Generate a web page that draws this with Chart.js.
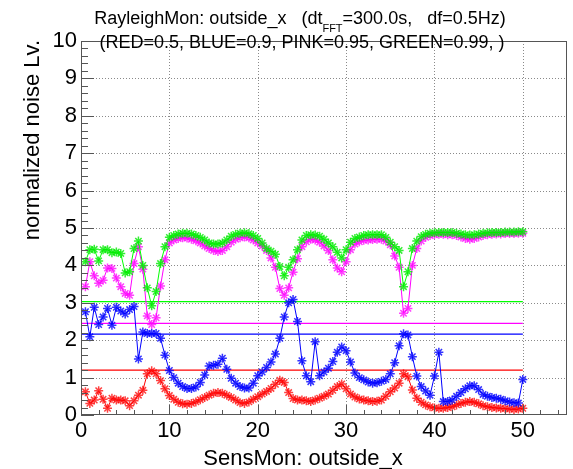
<!DOCTYPE html>
<html>
<head>
<meta charset="utf-8">
<script src="https://cdn.jsdelivr.net/npm/chart.js@4.4.1/dist/chart.umd.min.js"></script>
<style>
  html, body { margin: 0; padding: 0; background: #fff; }
  canvas { display: block; }
</style>
</head>
<body>
<canvas id="noise-chart" width="573" height="469"></canvas>
<script>
// Frequency bins (Hz) of the RayleighMon output
var freqs = [
    0.5, 1, 1.5, 2, 2.5, 3, 3.5, 4, 4.5, 5, 5.5, 6, 6.5, 7, 7.5, 8, 8.5, 9, 9.5, 10,
    10.5, 11, 11.5, 12, 12.5, 13, 13.5, 14, 14.5, 15, 15.5, 16, 16.5, 17, 17.5, 18, 18.5, 19, 19.5, 20,
    20.5, 21, 21.5, 22, 22.5, 23, 23.5, 24, 24.5, 25, 25.5, 26, 26.5, 27, 27.5, 28, 28.5, 29, 29.5, 30,
    30.5, 31, 31.5, 32, 32.5, 33, 33.5, 34, 34.5, 35, 35.5, 36, 36.5, 37, 37.5, 38, 38.5, 39, 39.5, 40,
    40.5, 41, 41.5, 42, 42.5, 43, 43.5, 44, 44.5, 45, 45.5, 46, 46.5, 47, 47.5, 48, 48.5, 49, 49.5, 50
];

// RED = 0.5 quantile
var redValues = [
    0.62, 0.31, 0.40, 0.65, 0.42, 0.18, 0.45, 0.40, 0.40, 0.38, 0.25, 0.38, 0.53, 0.66, 1.10, 1.18, 1.10, 0.92, 0.70, 0.52,
    0.42, 0.34, 0.30, 0.29, 0.31, 0.35, 0.41, 0.47, 0.53, 0.58, 0.60, 0.58, 0.53, 0.47, 0.40, 0.33, 0.31, 0.35, 0.42, 0.49,
    0.56, 0.63, 0.71, 0.82, 0.93, 0.87, 0.60, 0.44, 0.40, 0.40, 0.38, 0.36, 0.40, 0.45, 0.50, 0.56, 0.66, 0.76, 0.83, 0.70,
    0.56, 0.48, 0.43, 0.40, 0.38, 0.36, 0.37, 0.40, 0.50, 0.62, 0.72, 0.85, 1.10, 1.02, 0.67, 0.45, 0.34, 0.27, 0.22, 0.19,
    0.18, 0.18, 0.20, 0.22, 0.27, 0.31, 0.34, 0.36, 0.34, 0.30, 0.25, 0.22, 0.20, 0.19, 0.18, 0.17, 0.16, 0.15, 0.16, 0.18
];

// BLUE = 0.9 quantile
var blueValues = [
    2.76, 2.09, 2.88, 2.42, 2.62, 2.85, 2.40, 2.88, 2.78, 2.70, 2.82, 2.90, 1.50, 2.22, 2.18, 2.18, 2.18, 2.05, 1.60, 1.19,
    1.00, 0.85, 0.76, 0.71, 0.71, 0.75, 0.87, 1.07, 1.31, 1.33, 1.36, 1.52, 1.22, 0.98, 0.85, 0.76, 0.72, 0.72, 0.85, 1.05,
    1.15, 1.27, 1.42, 1.63, 2.05, 2.62, 3.00, 3.09, 2.50, 1.45, 1.05, 0.89, 1.96, 1.05, 1.15, 1.25, 1.43, 1.68, 1.82, 1.72,
    1.42, 1.12, 1.00, 0.94, 0.88, 0.85, 0.86, 0.90, 0.95, 1.10, 1.40, 1.85, 2.17, 2.14, 1.56, 1.04, 0.76, 0.64, 0.53, 1.04,
    1.68, 0.36, 0.36, 0.40, 0.50, 0.60, 0.70, 0.78, 0.78, 0.68, 0.55, 0.50, 0.47, 0.45, 0.42, 0.38, 0.35, 0.33, 0.32, 0.95
];

// PINK = 0.95 quantile
var pinkValues = [
    3.43, 4.10, 3.72, 3.52, 3.60, 3.93, 3.92, 3.66, 3.43, 3.25, 3.20, 4.05, 4.50, 3.90, 2.65, 2.42, 2.60, 3.45, 4.15, 4.60,
    4.68, 4.72, 4.74, 4.73, 4.70, 4.66, 4.60, 4.52, 4.45, 4.40, 4.37, 4.40, 4.50, 4.62, 4.70, 4.74, 4.76, 4.74, 4.68, 4.60,
    4.52, 4.40, 4.20, 3.95, 3.38, 3.20, 3.40, 3.82, 4.18, 4.50, 4.63, 4.70, 4.68, 4.62, 4.52, 4.40, 4.15, 3.93, 3.83, 4.10,
    4.42, 4.57, 4.63, 4.67, 4.68, 4.69, 4.70, 4.70, 4.65, 4.55, 4.25, 3.95, 2.72, 2.85, 4.00, 4.45, 4.65, 4.75, 4.80, 4.82,
    4.83, 4.83, 4.82, 4.82, 4.80, 4.76, 4.72, 4.70, 4.72, 4.76, 4.80, 4.82, 4.83, 4.84, 4.84, 4.85, 4.85, 4.85, 4.86, 4.86
];

// GREEN = 0.99 quantile
var greenValues = [
    4.10, 4.42, 4.43, 4.12, 4.42, 4.42, 4.34, 4.36, 4.32, 3.80, 3.83, 4.45, 4.65, 4.00, 3.40, 2.92, 3.30, 4.05, 4.50, 4.75,
    4.80, 4.84, 4.86, 4.86, 4.84, 4.80, 4.75, 4.68, 4.60, 4.57, 4.57, 4.60, 4.68, 4.78, 4.83, 4.86, 4.87, 4.85, 4.80, 4.72,
    4.60, 4.45, 4.38, 4.30, 3.97, 3.72, 3.95, 4.15, 4.42, 4.68, 4.80, 4.82, 4.81, 4.78, 4.70, 4.60, 4.50, 4.35, 4.20, 4.42,
    4.62, 4.72, 4.76, 4.80, 4.82, 4.82, 4.82, 4.82, 4.75, 4.62, 4.50, 4.40, 3.43, 3.83, 4.45, 4.65, 4.77, 4.83, 4.86, 4.87,
    4.88, 4.88, 4.88, 4.88, 4.86, 4.84, 4.82, 4.81, 4.82, 4.84, 4.86, 4.87, 4.88, 4.88, 4.88, 4.89, 4.89, 4.89, 4.90, 4.90
];

// Threshold levels drawn as flat lines
var redLevel = 1.2;
var blueLevel = 2.16;
var pinkLevel = 2.45;
var greenLevel = 3.03;

var xTicks = [0, 10, 20, 30, 40, 50];
var yTicks = [0, 1, 2, 3, 4, 5, 6, 7, 8, 9, 10];

var FONT = "'Liberation Sans', Arial, Helvetica, sans-serif";

function toPoints(values) {
    return freqs.map(function(f, i) {
        return { x: f, y: values[i] };
    });
}

function levelLine(level) {
    return [{ x: 0, y: level }, { x: freqs[freqs.length - 1], y: level }];
}

function seriesDataset(label, values, color, markerColor) {
    return {
        label: label,
        data: toPoints(values),
        borderColor: color,
        backgroundColor: color,
        borderWidth: 1,
        pointStyle: 'star',
        pointRadius: 4.5,
        pointBorderWidth: 1.5,
        pointBorderColor: markerColor,
        tension: 0
    };
}

function levelDataset(label, level, color) {
    return {
        label: label,
        data: levelLine(level),
        borderColor: color,
        borderWidth: 1.2,
        pointRadius: 0,
        tension: 0
    };
}

// ROOT style frame: dotted grid, inward ticks, titles
var rootFrame = {
    id: 'rootFrame',
    beforeDatasetsDraw: function(chart) {
        var ctx = chart.ctx, a = chart.chartArea;
        var xs = chart.scales.x, ys = chart.scales.y;
        ctx.save();
        ctx.strokeStyle = '#8a8a8a';
        ctx.lineWidth = 1;
        ctx.setLineDash([1, 2]);
        ctx.beginPath();
        xTicks.forEach(function(v) {
            if (v <= 0) return;
            var px = Math.round(xs.getPixelForValue(v)) + 0.5;
            ctx.moveTo(px, a.top);
            ctx.lineTo(px, a.bottom);
        });
        yTicks.forEach(function(v) {
            if (v <= 0 || v >= 10) return;
            var py = Math.round(ys.getPixelForValue(v)) + 0.5;
            ctx.moveTo(a.left, py);
            ctx.lineTo(a.right, py);
        });
        ctx.stroke();
        ctx.restore();
    },
    afterDatasetsDraw: function(chart) {
        var ctx = chart.ctx, a = chart.chartArea;
        var xs = chart.scales.x, ys = chart.scales.y;
        ctx.save();
        ctx.strokeStyle = '#555';
        ctx.lineWidth = 1;
        ctx.strokeRect(Math.round(a.left) + 0.5, Math.round(a.top) + 0.5,
            Math.round(a.right - a.left) - 1, Math.round(a.bottom - a.top) - 1);

        ctx.beginPath();
        var i, v, px, py, len;
        // x ticks every 2, long ones every 10
        for (i = 0; i <= 27; i++) {
            v = i * 2;
            px = Math.round(xs.getPixelForValue(v)) + 0.5;
            len = (v % 10 === 0) ? 10 : 5;
            ctx.moveTo(px, a.bottom);
            ctx.lineTo(px, a.bottom - len);
        }
        // y ticks every 0.2, long ones every 1
        for (i = 0; i <= 50; i++) {
            py = Math.round(ys.getPixelForValue(i / 5)) + 0.5;
            len = (i % 5 === 0) ? 13 : 7;
            ctx.moveTo(a.left, py);
            ctx.lineTo(a.left + len, py);
        }
        ctx.stroke();
        ctx.restore();
    },
    afterDraw: function(chart) {
        var ctx = chart.ctx;
        ctx.save();
        ctx.fillStyle = '#000';

        // main title, line 1 with subscript
        var big = '18px ' + FONT, small = '11px ' + FONT;
        var parts = [
            { t: 'RayleighMon: outside_x   (dt', f: big, dy: 0 },
            { t: 'FFT', f: small, dy: 8 },
            { t: '=300.0s,   df=0.5Hz)', f: big, dy: 0 }
        ];
        var total = 0;
        parts.forEach(function(p) { ctx.font = p.f; p.w = ctx.measureText(p.t).width; total += p.w; });
        var x0 = 300 - total / 2;
        ctx.textAlign = 'left';
        ctx.textBaseline = 'alphabetic';
        parts.forEach(function(p) {
            ctx.font = p.f;
            ctx.fillText(p.t, x0, 24 + p.dy);
            x0 += p.w;
        });

        // line 2
        ctx.font = big;
        ctx.textAlign = 'center';
        ctx.fillText('(RED=0.5, BLUE=0.9, PINK=0.95, GREEN=0.99, )', 302, 48);

        // x axis title
        ctx.font = '22px ' + FONT;
        ctx.fillText('SensMon: outside_x', 303, 465);

        // y axis title
        ctx.translate(39, 40);
        ctx.rotate(-Math.PI / 2);
        ctx.textAlign = 'right';
        ctx.fillText('normalized noise Lv.', 0, 0);
        ctx.restore();
    }
};

var ctx = document.getElementById('noise-chart').getContext('2d');

var chart = new Chart(ctx, {
    type: 'line',
    data: {
        datasets: [
            seriesDataset('GREEN', greenValues, '#00ff00', 'rgba(0, 235, 0, 0.8)'),
            seriesDataset('PINK', pinkValues, '#ff00ff', 'rgba(255, 0, 255, 0.75)'),
            seriesDataset('BLUE', blueValues, '#0000ff', 'rgba(0, 0, 255, 0.8)'),
            seriesDataset('RED', redValues, '#ff0000', 'rgba(255, 0, 0, 0.75)'),
            levelDataset('GREEN level', greenLevel, '#00ff00'),
            levelDataset('PINK level', pinkLevel, '#ff00ff'),
            levelDataset('BLUE level', blueLevel, '#0000ff'),
            levelDataset('RED level', redLevel, '#ff0000')
        ]
    },
    options: {
        responsive: false,
        animation: false,
        layout: {
            padding: { top: 41, right: 3, left: 0, bottom: 0 }
        },
        plugins: {
            legend: { display: false },
            tooltip: { enabled: false },
            title: { display: false }
        },
        scales: {
            x: {
                type: 'linear',
                min: 0,
                max: 55,
                afterFit: function(scale) { scale.height = 54; },
                afterBuildTicks: function(scale) {
                    scale.ticks = xTicks.map(function(v) { return { value: v }; });
                },
                grid: { display: false, drawTicks: false },
                border: { display: false },
                ticks: {
                    color: '#000',
                    padding: 3,
                    maxRotation: 0,
                    autoSkip: false,
                    font: { family: FONT, size: 22 }
                }
            },
            y: {
                type: 'linear',
                min: 0,
                max: 10,
                afterFit: function(scale) { scale.width = 81; },
                afterBuildTicks: function(scale) {
                    scale.ticks = yTicks.map(function(v) { return { value: v }; });
                },
                grid: { display: false, drawTicks: false },
                border: { display: false },
                ticks: {
                    color: '#000',
                    padding: 4,
                    autoSkip: false,
                    font: { family: FONT, size: 22 }
                }
            }
        }
    },
    plugins: [rootFrame]
});
</script>
</body>
</html>
